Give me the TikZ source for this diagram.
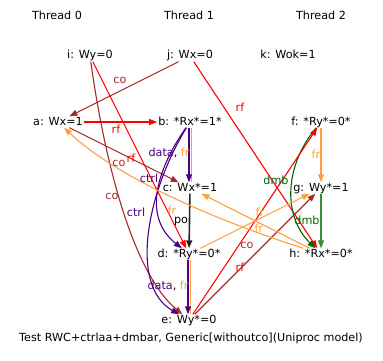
\documentclass[tikz,border=0pt]{standalone}
\usepackage{fontspec}
\setmainfont{DejaVu Sans}
\usetikzlibrary{arrows.meta}
\definecolor{cred}{RGB}{255,0,0}
\definecolor{cbrown}{RGB}{165,42,42}
\definecolor{cfr}{RGB}{255,160,64}
\definecolor{cind}{RGB}{75,0,130}
\definecolor{cdmb}{RGB}{0,100,0}
\definecolor{cpotwo}{RGB}{56,140,56}
\begin{document}
\begin{tikzpicture}[x=1pt,y=-1pt,
  ev/.style={inner xsep=1pt, inner ysep=0pt, text height=8.5pt, text depth=2.5pt, font=\fontsize{11.2}{13}\selectfont},
  lbl/.style={inner sep=0pt, font=\fontsize{11.2}{13}\selectfont},
  edge/.style={line width=1.1pt, -{Triangle[length=8pt,width=6pt]}},
  plain/.style={line width=1.1pt},
  poedge/.style={line width=1.6pt, black!85, -{Triangle[length=8pt,width=6pt]}}]
\useasboundingbox (0,0) rectangle (383,361);
% thread titles
\node[ev] (t0) at (57,17) {Thread 0};
\node[ev] (t1) at (189,17) {Thread 1};
\node[ev] (t2) at (321,17) {Thread 2};
% events
\node[ev] (i) at (90,56) {i: Wy=0};
\node[ev] (j) at (190,56) {j: Wx=0};
\node[ev] (k) at (288,56) {k: Wok=1};
\node[ev] (a) at (58,122) {a: Wx=1};
\node[ev] (b) at (190,122) {b: *Rx*=1*};
\node[ev] (f) at (321,122) {f: *Ry*=0*};
\node[ev] (c) at (190,188) {c: Wx*=1};
\node[ev] (g) at (321,188) {g: Wy*=1};
\node[ev] (d) at (189,254) {d: *Ry*=0*};
\node[ev] (h) at (321,254) {h: *Rx*=0*};
\node[ev] (e) at (189,320) {e: Wy*=0};
\node[ev] (cap) at (191,338) {Test RWC+ctrlaa+dmbar, Generic[withoutco](Uniproc model)};
% edges
\draw[edge,cbrown] (j) -- (a);
\draw[edge,cbrown] (i) .. controls (103,150) and (130,270) .. (e);
\draw[edge,cred] (i) -- (d);
\draw[edge,cred] (a) -- (b);
\draw[edge,cbrown] (a) -- (c);
\draw[plain,cfr] ([xshift=1.6pt]b.south) -- ([xshift=1.6pt]c.north);
\draw[edge,cind] ([xshift=-1pt]b.south) -- ([xshift=-1pt]c.north);
\draw[edge,cind] (b) .. controls (160,165) and (140,215) .. (d);
\draw[edge,cind] (b) .. controls (148,190) and (128,285) .. (e);
\draw[poedge] (c) -- (d);
\draw[plain,cfr] ([xshift=1.6pt]d.south) -- ([xshift=1.6pt]e.north);
\draw[edge,cind] ([xshift=-1pt]d.south) -- ([xshift=-1pt]e.north);
\draw[edge,cred] (j) -- (h);
\draw[edge,cfr] (f) -- (g);
\draw[edge,cdmb] (f) .. controls (285,165) and (282,215) .. (h);
\draw[edge,cpotwo] (g) -- (h);
\draw[edge,cred] (e) -- (f);
\draw[edge,cbrown] (e) -- (g);
\draw[edge,cfr] (d) -- (g);
\draw[edge,cfr] (h) -- (c);
\draw[edge,cfr] (h) .. controls (240,228) and (125,185) .. (a);
% labels
\node[lbl,text=cbrown] (l1) at (120,80) {co};
\node[lbl,text=cbrown] (l2) at (112,196) {co};
\node[lbl,text=cbrown] (l3) at (119,163) {co};
\node[lbl,text=cred] (l4) at (131,158) {rf};
\node[lbl,text=cred] (l5) at (116,129) {rf};
\node[lbl] (l6) at (169,153) {\textcolor{cind}{data}, \textcolor{cfr}{fr}};
\node[lbl,text=cind] (l7) at (149,178) {ctrl};
\node[lbl,text=cind] (l8) at (136,212) {ctrl};
\node[lbl,text=cfr] (l9) at (172,210) {fr};
\node[lbl] (l10) at (181,222) {po};
\node[lbl] (l11) at (168,286) {\textcolor{cind}{data}, \textcolor{cfr}{fr}};
\node[lbl,text=cred] (l12) at (240,107) {rf};
\node[lbl,text=cfr] (l13) at (316,154) {fr};
\node[lbl,text=cdmb] (l14) at (276,180) {dmb};
\node[lbl,text=cdmb] (l15) at (307,220) {dmb};
\node[lbl,text=cfr] (l16) at (260,212) {fr};
\node[lbl,text=cfr] (l17) at (259,228) {fr};
\node[lbl,text=cbrown] (l18) at (247,245) {co};
\node[lbl,text=cred] (l19) at (240,267) {rf};
\end{tikzpicture}
\end{document}
